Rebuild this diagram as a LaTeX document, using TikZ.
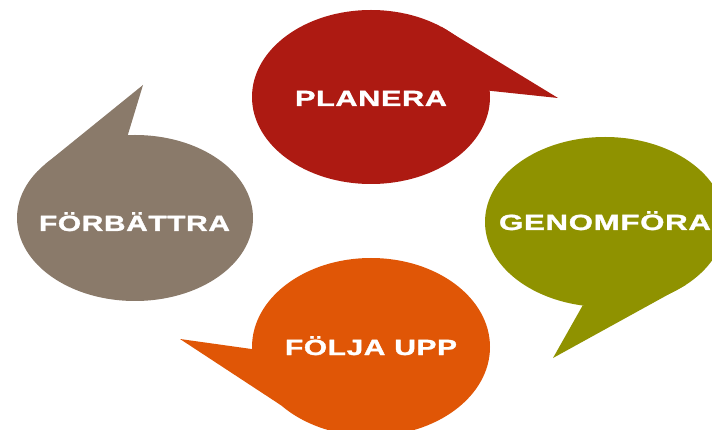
\documentclass[tikz,border=0pt]{standalone}
\usepackage{fontspec}
\usepackage{graphicx}
\setmainfont{Liberation Sans}
\usetikzlibrary{shapes.geometric}
\definecolor{cRed}{RGB}{173,26,18}
\definecolor{cOlive}{RGB}{143,146,0}
\definecolor{cOrange}{RGB}{224,86,6}
\definecolor{cTaupe}{RGB}{138,122,106}
\begin{document}
\begin{tikzpicture}[x=1pt,y=-1pt,
  bubble/.style={ellipse, inner sep=0pt, outer sep=0pt, draw=none},
  lbl/.style={text=white, font=\bfseries\fontsize{22}{22}\selectfont\addfontfeature{LetterSpace=2,FakeBold=1.2}, anchor=base, inner sep=0pt}]
\useasboundingbox (0,0) rectangle (712,430);
\clip (0,0) rectangle (712,430);
% PLANERA
\node[bubble, fill=cRed, minimum width=238pt, minimum height=174pt] (plan) at (371,97) {};
\coordinate (planTip) at (558,98);
\fill[cRed] (plan.45) -- (planTip) -- (plan.3) -- cycle;
\node[lbl] (planL) at (371,106) {\resizebox{152pt}{\height}{PLANERA}};
% GENOMFORA
\node[bubble, fill=cOlive, minimum width=240pt, minimum height=170pt] (genom) at (605,222) {};
\coordinate (genomTip) at (553,358);
\fill[cOlive] (genom.255) -- (genomTip) -- (genom.322) -- cycle;
\node[lbl] (genomL) at (605,230) {\resizebox{212pt}{\height}{GENOMFÖRA}};
% FOLJA UPP
\node[bubble, fill=cOrange, minimum width=238pt, minimum height=178pt] (folja) at (371,347) {};
\coordinate (foljaTip) at (180,339);
\fill[cOrange] (folja.181) -- (foljaTip) -- (folja.213) -- cycle;
\node[lbl] (foljaL) at (371,355) {\resizebox{172pt}{\height}{FÖLJA UPP}};
% FORBATTRA
\node[bubble, fill=cTaupe, minimum width=236pt, minimum height=166pt] (forb) at (135,218) {};
\coordinate (forbTip) at (143,85);
\fill[cTaupe] (forb.95) -- (forbTip) -- (forb.149) -- cycle;
\node[lbl] (forbL) at (134.5,231) {\resizebox{191pt}{\height}{FÖRBÄTTRA}};
\end{tikzpicture}
\end{document}
